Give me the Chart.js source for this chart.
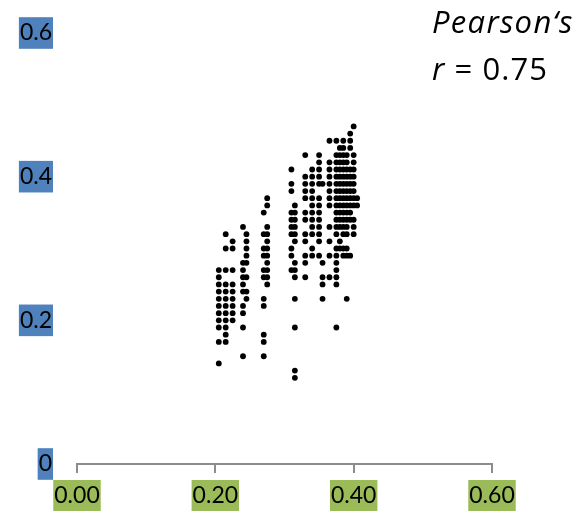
<!DOCTYPE html>
<html><head><meta charset="utf-8">
<script src="https://cdn.jsdelivr.net/npm/chart.js@4/dist/chart.umd.min.js"></script>
<style>html,body{margin:0;padding:0;background:#fff;}canvas{display:block;}</style>
</head><body>
<canvas id="c" width="583" height="511"></canvas>
<script>
// x positions of the point columns
const columnX = [0.205, 0.215, 0.225, 0.24, 0.245, 0.27, 0.275, 0.31, 0.315, 0.33, 0.34, 0.35, 0.355, 0.365,
                 0.375, 0.38, 0.385, 0.39, 0.395, 0.40, 0.405];
// y values of points in each column
const columnY = [
  [0.27,0.26,0.25,0.24,0.23,0.22,0.21,0.20,0.19,0.17,0.14],
  [0.32,0.30,0.27,0.25,0.24,0.23,0.22,0.21,0.20,0.19,0.18,0.17],
  [0.31,0.30,0.27,0.25,0.24,0.23,0.22,0.21,0.20],
  [0.33,0.28,0.27,0.26,0.25,0.24,0.22,0.21,0.19,0.15],
  [0.32,0.31,0.30,0.29,0.28,0.26,0.24,0.23],
  [0.35,0.32,0.30,0.29,0.27,0.26,0.23,0.22,0.18,0.17,0.15],
  [0.37,0.36,0.33,0.32,0.31,0.30,0.29,0.28,0.27,0.26,0.25],
  [0.41,0.39,0.38,0.35,0.34,0.33,0.32,0.30,0.29,0.27],
  [0.36,0.35,0.34,0.33,0.32,0.31,0.28,0.27,0.26,0.23,0.19,0.13,0.12],
  [0.43,0.40,0.39,0.38,0.37,0.35,0.34,0.32,0.31,0.29,0.28,0.26],
  [0.41,0.40,0.39,0.38,0.37,0.36,0.35,0.34,0.33,0.32,0.30,0.29],
  [0.43,0.42,0.41,0.40,0.39,0.37,0.36,0.35,0.34,0.33,0.32,0.31,0.29],
  [0.39,0.28,0.26,0.25,0.23],
  [0.45,0.42,0.41,0.40,0.39,0.38,0.37,0.36,0.33,0.31,0.29,0.26],
  [0.45,0.43,0.42,0.41,0.40,0.39,0.38,0.37,0.36,0.35,0.34,0.33,0.32,0.30,0.29,0.28,0.27,0.26,0.25,0.19],
  [0.44,0.43,0.42,0.41,0.40,0.39,0.38,0.37,0.36,0.35,0.34,0.33,0.31,0.30],
  [0.45,0.44,0.43,0.42,0.41,0.40,0.39,0.38,0.37,0.36,0.35,0.34,0.33,0.32,0.30,0.29],
  [0.43,0.42,0.41,0.40,0.39,0.38,0.37,0.36,0.35,0.34,0.33,0.32,0.30,0.29,0.23],
  [0.46,0.45,0.44,0.41,0.40,0.39,0.38,0.37,0.36,0.35,0.34,0.29],
  [0.47,0.43,0.42,0.41,0.40,0.39,0.38,0.37,0.36,0.34,0.33,0.32],
  [0.37,0.36]
];
const xTickLabels = ['0.00', '0.20', '0.40', '0.60'];
const yTickLabels = ['0', '0.2', '0.4', '0.6'];
const noteLine1 = 'Pearson\u2018s';
const noteVar = 'r';
const noteValue = ' = 0.75';

const points = [];
columnX.forEach((x, i) => columnY[i].forEach(y => points.push({x: x, y: y})));

const tickFont = {family: 'Lato', size: 23};

const notePlugin = {
  id: 'note',
  afterDraw(chart) {
    const ctx = chart.ctx;
    ctx.save();
    ctx.fillStyle = '#000';
    ctx.textBaseline = 'alphabetic';
    ctx.textAlign = 'left';
    ctx.letterSpacing = '1.3px';
    ctx.font = 'italic 31px "Open Sans"';
    ctx.fillText(noteLine1, 432, 33);
    ctx.letterSpacing = '1.1px';
    ctx.fillText(noteVar, 432, 80);
    const w = ctx.measureText(noteVar).width;
    ctx.font = '31px "Open Sans"';
    ctx.fillText(noteValue, 432 + w, 80);
    ctx.restore();
  }
};

new Chart(document.getElementById('c'), {
  type: 'scatter',
  data: {
    datasets: [{
      data: points,
      backgroundColor: '#000',
      borderWidth: 0,
      pointRadius: 2.9
    }]
  },
  options: {
    responsive: false,
    animation: false,
    layout: {padding: {top: 33, right: 91, left: 0, bottom: 0}},
    plugins: {legend: {display: false}, tooltip: {enabled: false}},
    scales: {
      x: {
        type: 'linear', position: 'bottom', min: 0, max: 0.6,
        ticks: {
          stepSize: 0.2, autoSkip: false, maxRotation: 0,
          callback: v => xTickLabels[Math.round(v / 0.2)],
          font: tickFont, color: '#000', padding: 9,
          showLabelBackdrop: true, backdropColor: '#9BBB59',
          backdropPadding: {top: 2, bottom: 2, left: 1, right: 1}
        },
        grid: {drawOnChartArea: false, drawTicks: true, tickLength: 9, color: '#8c8c8c', lineWidth: 2},
        border: {display: true, color: '#8c8c8c', width: 2},
        afterFit: s => { s.height = 47; }
      },
      y: {
        type: 'linear', min: 0, max: 0.6,
        ticks: {
          stepSize: 0.2, autoSkip: false,
          callback: v => yTickLabels[Math.round(v / 0.2)],
          font: tickFont, color: '#000', padding: 25,
          showLabelBackdrop: true, backdropColor: '#4F81BD',
          backdropPadding: {top: 2, bottom: 2, left: 1, right: 1}
        },
        grid: {display: false, drawTicks: false},
        border: {display: false},
        afterFit: s => { s.width = 77; s.paddingTop = 0; s.paddingBottom = 0; }
      }
    }
  },
  plugins: [notePlugin]
});
</script>
</body></html>
